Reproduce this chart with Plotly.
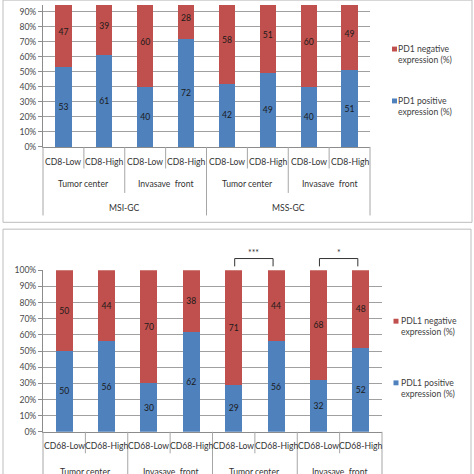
import plotly.graph_objects as go

# ---------------- data ----------------
cats_top = ["CD8-Low", "CD8-High", "CD8-Low", "CD8-High", "CD8-Low", "CD8-High", "CD8-Low", "CD8-High"]
groups_top = ["Tumor center", "Invasave\u00a0\u00a0front", "Tumor center", "Invasave\u00a0\u00a0front"]
supers_top = ["MSI-GC", "MSS-GC"]
pd1_pos = [53, 61, 40, 72, 42, 49, 40, 51]
pd1_neg = [47, 39, 60, 28, 58, 51, 60, 49]

cats_bot = ["CD68-Low", "CD68-High", "CD68-Low", "CD68-High", "CD68-Low", "CD68-High", "CD68-Low", "CD68-High"]
groups_bot = ["Tumor center", "Invasave\u00a0\u00a0front", "Tumor center", "Invasave\u00a0\u00a0front"]
pdl1_pos = [50, 56, 30, 62, 29, 56, 32, 52]
pdl1_neg = [50, 44, 70, 38, 71, 44, 68, 48]
sig_bot = [(4, 5, "***"), (6, 7, "*")]

legend_top = ["PD1 negative<br>expression (%)", "PD1 positive<br>expression (%)"]
legend_bot = ["PDL1 negative<br>expression (%)", "PDL1 positive<br>expression (%)"]
y_ticks = [0, 10, 20, 30, 40, 50, 60, 70, 80, 90, 100]

# ---------------- style ----------------
W = H = 474
BLUE = "#4F81BD"
RED = "#C0504D"
GRID = "#a0a0a0"
AXIS = "#8c8c8c"
DIV = "#a6a6a6"
BORDER = "#bdbdbd"
FONT = "Lato"
TXT = "#333333"
FS = 8.6


def fx(p):
    return p / W


def fy(p):
    return 1 - p / H


# panel geometry (pixels)
TOP = dict(x0=43, x1=370, y0=145, pxper=138 / 90)
BOT = dict(x0=43, x1=382, y0=436, y100=271)
n = len(cats_top)


def cx(P, i):
    return P["x0"] + (i + 0.5) * (P["x1"] - P["x0"]) / n


def bx(P, k):
    return P["x0"] + k * (P["x1"] - P["x0"]) / n


fig = go.Figure()
xs = list(range(n))
bar_kw = dict(width=0.4, textposition="inside", insidetextanchor="middle", textangle=0,
              textfont=dict(family=FONT, size=FS, color="#1a1a1a"), marker_line_width=0,
              showlegend=False, hoverinfo="skip")
fig.add_trace(go.Bar(x=xs, y=pd1_pos, text=pd1_pos, marker_color=BLUE, xaxis="x", yaxis="y", **bar_kw))
fig.add_trace(go.Bar(x=xs, y=pd1_neg, text=pd1_neg, marker_color=RED, xaxis="x", yaxis="y", **bar_kw))
fig.add_trace(go.Bar(x=xs, y=pdl1_pos, text=pdl1_pos, marker_color=BLUE, xaxis="x2", yaxis="y2", **bar_kw))
fig.add_trace(go.Bar(x=xs, y=pdl1_neg, text=pdl1_neg, marker_color=RED, xaxis="x2", yaxis="y2", **bar_kw))

xa = dict(range=[-0.5, n - 0.5], showticklabels=False, showgrid=False, zeroline=False,
          showline=True, linecolor=AXIS, linewidth=1, ticks="", fixedrange=True)
ya = dict(tickvals=y_ticks, ticktext=[f"{v}%" for v in y_ticks], showgrid=True, gridcolor=GRID,
          gridwidth=1, zeroline=False, showline=True, linecolor=AXIS, linewidth=1,
          ticks="outside", ticklen=4, tickcolor=AXIS, fixedrange=True,
          tickfont=dict(family=FONT, size=FS, color="#4a4a4a"))

shapes = []
annots = []

# panel borders
shapes.append(dict(type="rect", xref="paper", yref="paper", x0=fx(3), x1=fx(472), y0=fy(222), y1=fy(-5),
                   line=dict(color=BORDER, width=1)))
shapes.append(dict(type="rect", xref="paper", yref="paper", x0=fx(3), x1=fx(471), y0=fy(480), y1=fy(229),
                   line=dict(color=BORDER, width=1)))


def vline(xp, y0, y1):
    shapes.append(dict(type="line", xref="paper", yref="paper", x0=fx(xp), x1=fx(xp),
                       y0=fy(y0), y1=fy(y1), line=dict(color=DIV, width=1)))


def label(xp, yp, text):
    annots.append(dict(xref="paper", yref="paper", x=fx(xp), y=fy(yp), text=text, showarrow=False,
                       xanchor="center", yanchor="middle", font=dict(family=FONT, size=FS, color=TXT)))


# top panel hierarchical axis
for k in range(n + 1):
    if k % 4 == 0:
        vline(bx(TOP, k), TOP["y0"], 215)
    elif k % 2 == 0:
        vline(bx(TOP, k), TOP["y0"], 192)
    else:
        vline(bx(TOP, k), TOP["y0"], 167)
for i, c in enumerate(cats_top):
    label(cx(TOP, i), 160, c)
for g, t in enumerate(groups_top):
    label((bx(TOP, 2 * g) + bx(TOP, 2 * g + 2)) / 2, 183, t)
for s, t in enumerate(supers_top):
    label((bx(TOP, 4 * s) + bx(TOP, 4 * s + 4)) / 2, 207, t)

# bottom panel hierarchical axis (group row is cut by the image edge, as in the reference)
for k in range(n + 1):
    if k % 2 == 0:
        vline(bx(BOT, k), BOT["y0"], 480)
    else:
        vline(bx(BOT, k), BOT["y0"], 458)
for i, c in enumerate(cats_bot):
    label(cx(BOT, i), 451, c)
for g, t in enumerate(groups_bot):
    label((bx(BOT, 2 * g) + bx(BOT, 2 * g + 2)) / 2, 477.5, t)

# significance brackets
for a, b, st in sig_bot:
    xa_, xb_ = cx(BOT, a) + 1, cx(BOT, b) - 3
    shapes.append(dict(type="path", xref="paper", yref="paper",
                       path=f"M {fx(xa_)},{fy(267)} L {fx(xa_)},{fy(259)} L {fx(xb_)},{fy(259)} L {fx(xb_)},{fy(267)}",
                       line=dict(color="#333333", width=1)))
    annots.append(dict(xref="paper", yref="paper", x=fx((xa_ + xb_) / 2), y=fy(253), text=st, showarrow=False,
                       xanchor="center", yanchor="middle", font=dict(family=FONT, size=FS, color=TXT)))


# legends
def legend_item(sx, sy, tx, text, color):
    shapes.append(dict(type="rect", xref="paper", yref="paper", x0=fx(sx - 2.5), x1=fx(sx + 2.5),
                       y0=fy(sy + 2.5), y1=fy(sy - 2.5), fillcolor=color, line=dict(width=0)))
    annots.append(dict(xref="paper", yref="paper", x=fx(tx), y=fy(sy + 5.5), text=text, showarrow=False,
                       xanchor="left", yanchor="middle", align="left",
                       font=dict(family=FONT, size=FS, color="#404040")))


legend_item(394.5, 45, 396, legend_top[0], RED)
legend_item(394.5, 98, 396, legend_top[1], BLUE)
legend_item(396, 323, 399, legend_bot[0], RED)
legend_item(396, 386, 399, legend_bot[1], BLUE)

fig.update_layout(
    width=W, height=H, margin=dict(l=0, r=0, t=0, b=0),
    paper_bgcolor="white", plot_bgcolor="white", barmode="stack", bargap=0.6,
    uniformtext=dict(minsize=FS, mode="show"),
    xaxis=dict(domain=[fx(TOP["x0"]), fx(TOP["x1"])], anchor="y", **xa),
    yaxis=dict(domain=[fy(TOP["y0"]), 1], anchor="x", range=[0, TOP["y0"] / TOP["pxper"]], **ya),
    xaxis2=dict(domain=[fx(BOT["x0"]), fx(BOT["x1"])], anchor="y2", **xa),
    yaxis2=dict(domain=[fy(BOT["y0"]), fy(BOT["y100"])], anchor="x2", range=[0, 100], **ya),
    shapes=shapes, annotations=annots,
)

fig.write_html("out.html", config={"displayModeBar": False}, post_script=(
    "document.body.style.margin='0';document.body.style.padding='0';"
    "document.documentElement.style.overflow='hidden';document.body.style.overflow='hidden';"))
